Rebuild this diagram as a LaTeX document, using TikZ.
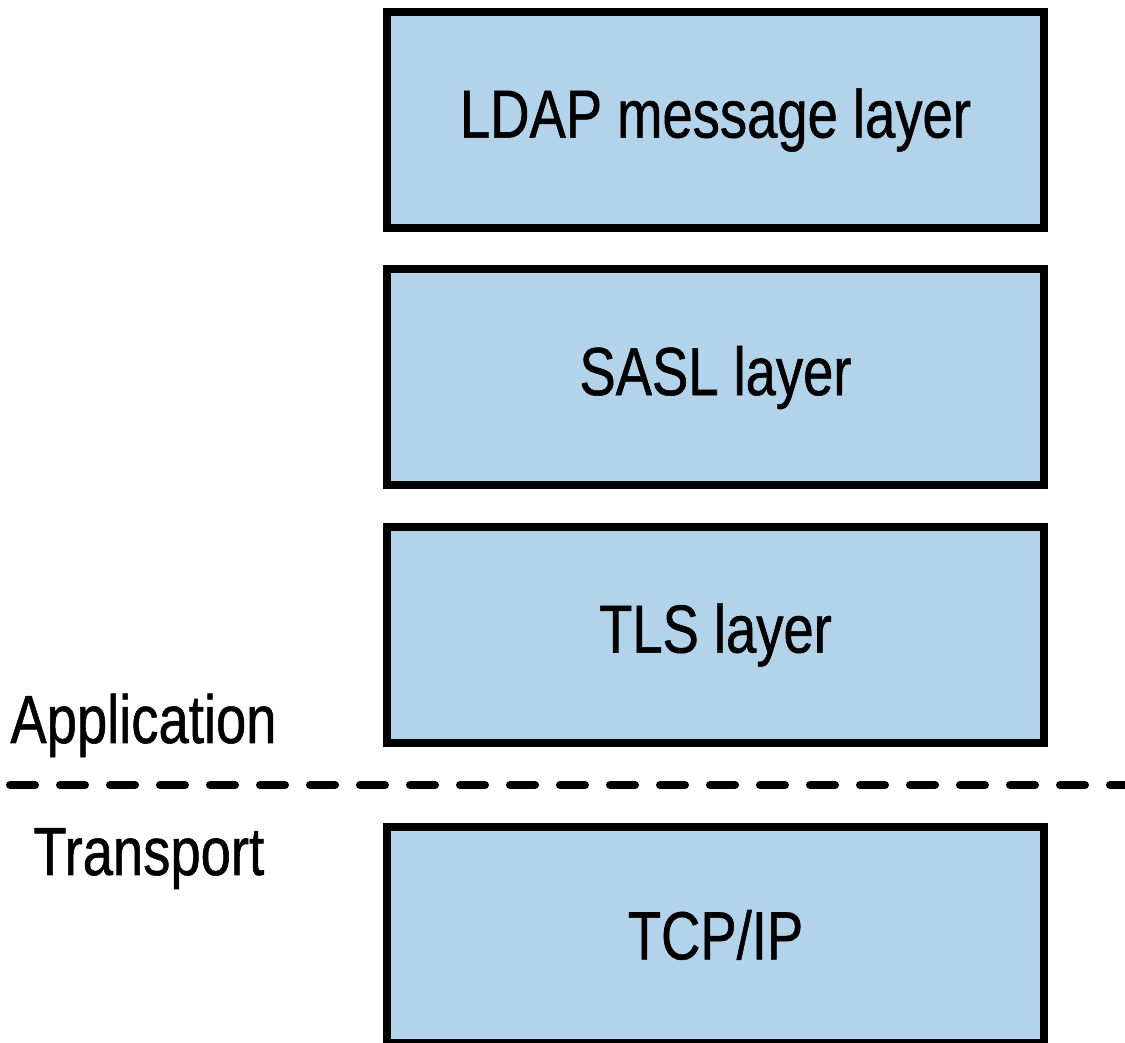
\documentclass[tikz,border=0pt]{standalone}
\usepackage{fontspec}
\setmainfont{Liberation Sans}[FakeStretch=0.8, FakeBold=0.8]
\usepackage{xcolor}
\usepackage{tikz}
\usetikzlibrary{positioning}
\definecolor{layerblue}{RGB}{178,211,233}
\tikzstyle{layer} = [rectangle, draw=black, fill=layerblue, line width=4pt, minimum width=328.5pt, minimum height=108pt, font=\fontsize{34}{40}\selectfont]
\tikzstyle{side} = [inner sep=0pt, anchor=base west, font=\fontsize{34}{40}\selectfont]
\tikzstyle{sep} = [line width=4pt, line cap=round, dash pattern=on 12.5pt off 12.5pt]

\begin{document}
\begin{tikzpicture}[x=0.5pt, y=0.5pt, node distance=16.75pt]
    \useasboundingbox (0,0) rectangle (1125,1043);
    \node[layer] (LDAP) at (715.5,923) {LDAP message layer};
    \node[layer, below=of LDAP] (SASL) {SASL layer};
    \node[layer, below=of SASL] (TLS) {TLS layer};
    \node[layer, below=38pt of TLS] (TCP) {TCP/IP};
    \coordinate (sepL) at (10,258);
    \coordinate (sepR) at (1140,258);
    \draw[sep] (sepL) -- (sepR);
    \node[side] (app) at (10,300) {Application};
    \node[side] (trans) at (33,168) {Transport};
\end{tikzpicture}
\end{document}
